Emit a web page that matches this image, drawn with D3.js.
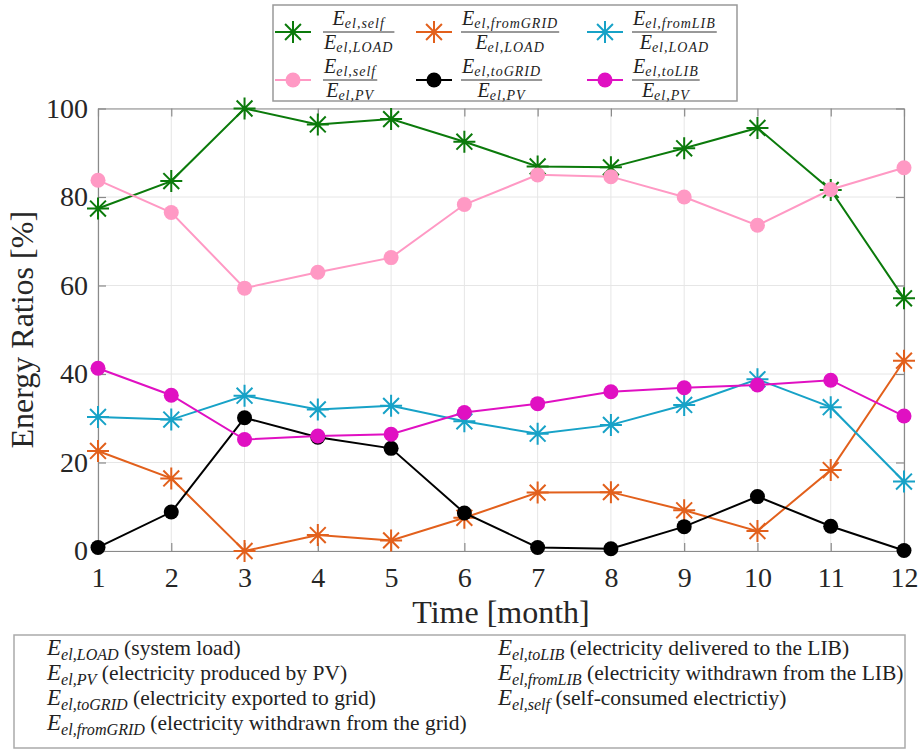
<!DOCTYPE html>
<html>
<head>
<meta charset="utf-8">
<script src="https://cdn.jsdelivr.net/npm/d3@7"></script>
<style>
  body { margin: 0; background: #fff; }
  svg { display: block; }
  svg text { font-family: "Liberation Serif", "Times New Roman", Times, "Nimbus Roman", "DejaVu Serif", "Noto Serif", serif; }
</style>
</head>
<body>
<svg id="chart" width="919" height="750"></svg>
<script>
// values
const months = [1, 2, 3, 4, 5, 6, 7, 8, 9, 10, 11, 12];
const selfLoad = [77.4, 83.6, 100, 96.4, 97.6, 92.5, 86.9, 86.7, 91.0, 95.6, 81.6, 57.1];
const fromGridLoad = [22.6, 16.4, 0, 3.6, 2.4, 7.5, 13.2, 13.3, 9.2, 4.5, 18.3, 43.0];
const fromLibLoad = [30.3, 29.7, 35.1, 32.0, 32.8, 29.3, 26.5, 28.5, 33.0, 38.8, 32.5, 15.7];
const selfPv = [83.8, 76.5, 59.4, 63.0, 66.3, 78.3, 85.0, 84.6, 80.0, 73.6, 81.7, 86.6];
const toGridPv = [0.8, 8.8, 30.1, 25.7, 23.2, 8.6, 0.8, 0.5, 5.5, 12.3, 5.6, 0.1];
const toLibPv = [41.3, 35.2, 25.2, 26.0, 26.4, 31.3, 33.3, 36.0, 36.9, 37.5, 38.6, 30.5];
const yTicks = [0, 20, 40, 60, 80, 100];

// drawing order matters: circles sit on top of asterisks
const series = [
  { values: selfLoad, color: "#0b7a0b", marker: "star", num: "el,self", den: "el,LOAD" },
  { values: fromGridLoad, color: "#e2601c", marker: "star", num: "el,fromGRID", den: "el,LOAD" },
  { values: fromLibLoad, color: "#17a2c7", marker: "star", num: "el,fromLIB", den: "el,LOAD" },
  { values: selfPv, color: "#ff99c4", marker: "dot", num: "el,self", den: "el,PV" },
  { values: toGridPv, color: "#000000", marker: "dot", num: "el,toGRID", den: "el,PV" },
  { values: toLibPv, color: "#e010c2", marker: "dot", num: "el,toLIB", den: "el,PV" }
];

const notes = [
  ["el,LOAD", "(system load)"],
  ["el,PV", "(electricity produced by PV)"],
  ["el,toGRID", "(electricity exported to grid)"],
  ["el,fromGRID", "(electricity withdrawn from the grid)"],
  ["el,toLIB", "(electricity delivered to the LIB)"],
  ["el,fromLIB", "(electricity withdrawn from the LIB)"],
  ["el,self", "(self-consumed electrictiy)"]
];

const svg = d3.select("#chart");
const plotLeft = 98, plotRight = 904, plotTop = 108.5, plotBottom = 551;

const x = d3.scaleLinear().domain([1, 12]).range([plotLeft, plotRight]);
const y = d3.scaleLinear().domain([0, 100]).range([plotBottom, plotTop]);

/**
 * Asterisk marker path centred on 0,0
 */
function starPath(s) {
  const d = s * 0.72;
  return "M" + (-s) + ",0H" + s + "M0," + (-s) + "V" + s +
    "M" + (-d) + "," + (-d) + "L" + d + "," + d +
    "M" + (-d) + "," + d + "L" + d + "," + (-d);
}

function drawMarker(g, type, color, cx, cy) {
  if (type == "star") {
    g.append("path")
      .attr("transform", "translate(" + cx + "," + cy + ")")
      .attr("d", starPath(11))
      .attr("stroke", color)
      .attr("stroke-width", 2)
      .attr("fill", "none");
  } else {
    g.append("circle")
      .attr("cx", cx)
      .attr("cy", cy)
      .attr("r", 7.5)
      .attr("fill", color);
  }
}

/**
 * E with an italic subscript, returns the text selection
 */
function mathE(parent, sub, fs, px, py, shift, spacing) {
  var t = parent.append("text")
    .attr("x", px)
    .attr("y", py)
    .attr("font-style", "italic")
    .attr("font-size", fs)
    .attr("fill", "#222");
  t.append("tspan").text("E");
  t.append("tspan")
    .attr("font-size", fs * 0.7)
    .attr("dy", shift)
    .attr("letter-spacing", spacing)
    .text(sub);
  return t;
}

// grid
const grid = svg.append("g").attr("stroke", "#e6e6e6").attr("stroke-width", 1);
grid.selectAll(".gx").data(months).enter().append("line")
  .attr("x1", d => x(d)).attr("x2", d => x(d))
  .attr("y1", plotTop).attr("y2", plotBottom);
grid.selectAll(".gy").data(yTicks).enter().append("line")
  .attr("x1", plotLeft).attr("x2", plotRight)
  .attr("y1", d => y(d)).attr("y2", d => y(d));

// axes with inward ticks on all four sides
function styleAxis(g) {
  g.attr("font-family", null);
  g.select(".domain").attr("stroke", "#8a8a8a").attr("stroke-width", 1.2);
  g.selectAll(".tick line").attr("stroke", "#8a8a8a").attr("stroke-width", 1.2);
  g.selectAll("text").attr("font-size", 28).attr("fill", "#262626");
}

svg.append("g")
  .attr("transform", "translate(0," + plotBottom + ")")
  .call(d3.axisBottom(x).tickValues(months).tickFormat(d3.format("d")).tickSize(-8).tickSizeOuter(0).tickPadding(16))
  .call(styleAxis);

svg.append("g")
  .attr("transform", "translate(" + plotLeft + ",0)")
  .call(d3.axisLeft(y).tickValues(yTicks).tickSize(-8).tickSizeOuter(0).tickPadding(10))
  .call(styleAxis);

svg.append("g")
  .attr("transform", "translate(0," + plotTop + ")")
  .call(d3.axisTop(x).tickValues(months).tickFormat("").tickSize(-8).tickSizeOuter(0))
  .call(styleAxis);

svg.append("g")
  .attr("transform", "translate(" + plotRight + ",0)")
  .call(d3.axisRight(y).tickValues(yTicks).tickFormat("").tickSize(-8).tickSizeOuter(0))
  .call(styleAxis);

// axis titles
svg.append("text")
  .attr("x", (plotLeft + plotRight) / 2)
  .attr("y", 623)
  .attr("text-anchor", "middle")
  .attr("font-size", 32)
  .attr("fill", "#262626")
  .text("Time [month]");

svg.append("text")
  .attr("transform", "translate(33," + ((plotTop + plotBottom) / 2) + ") rotate(-90)")
  .attr("text-anchor", "middle")
  .attr("font-size", 32)
  .attr("fill", "#262626")
  .text("Energy Ratios [%]");

// series
const line = d3.line().x((d, i) => x(months[i])).y(d => y(d));
series.forEach(function(s) {
  var g = svg.append("g");
  g.append("path")
    .datum(s.values)
    .attr("d", line)
    .attr("fill", "none")
    .attr("stroke", s.color)
    .attr("stroke-width", 2);
  s.values.forEach(function(v, i) {
    drawMarker(g, s.marker, s.color, x(months[i]), y(v));
  });
});

// top legend
const leg = svg.append("g");
leg.append("rect")
  .attr("x", 273).attr("y", 5).attr("width", 464).attr("height", 96)
  .attr("fill", "#fff").attr("stroke", "#999").attr("stroke-width", 1.5);

const legCols = [{ m: 293, f: 323 }, { m: 434, f: 461 }, { m: 605, f: 632 }];
const legRows = [32, 80];

series.forEach(function(s, i) {
  var col = legCols[i % 3], barY = legRows[Math.floor(i / 3)];
  leg.append("line")
    .attr("x1", col.m - 18).attr("x2", col.m + 18)
    .attr("y1", barY).attr("y2", barY)
    .attr("stroke", s.color).attr("stroke-width", 2);
  drawMarker(leg, s.marker, s.color, col.m, barY);

  var num = mathE(leg, s.num, 20, col.f, barY - 7, 2.5, 1);
  var den = mathE(leg, s.den, 20, col.f, barY + 17, 2.5, 1);
  var w1 = num.node().getComputedTextLength();
  var w2 = den.node().getComputedTextLength();
  var w = Math.max(w1, w2) + 2;
  num.attr("x", col.f + (w - w1) / 2);
  den.attr("x", col.f + (w - w2) / 2);
  leg.append("line")
    .attr("x1", col.f).attr("x2", col.f + w)
    .attr("y1", barY).attr("y2", barY)
    .attr("stroke", "#333").attr("stroke-width", 1);
});

// bottom notes box
const box = svg.append("g");
box.append("rect")
  .attr("x", 14).attr("y", 635).attr("width", 891).attr("height", 113)
  .attr("fill", "#fff").attr("stroke", "#aaa").attr("stroke-width", 1.5);

notes.forEach(function(n, i) {
  var px = i < 4 ? 47 : 498;
  var py = 655 + (i < 4 ? i : i - 4) * 25;
  var t = mathE(box, n[0], 23, px, py, 4.5, 0);
  t.append("tspan")
    .attr("dy", -4.5)
    .attr("font-style", "normal")
    .attr("letter-spacing", 0)
    .attr("font-size", 21.5)
    .text(" " + n[1]);
});
</script>
</body>
</html>
